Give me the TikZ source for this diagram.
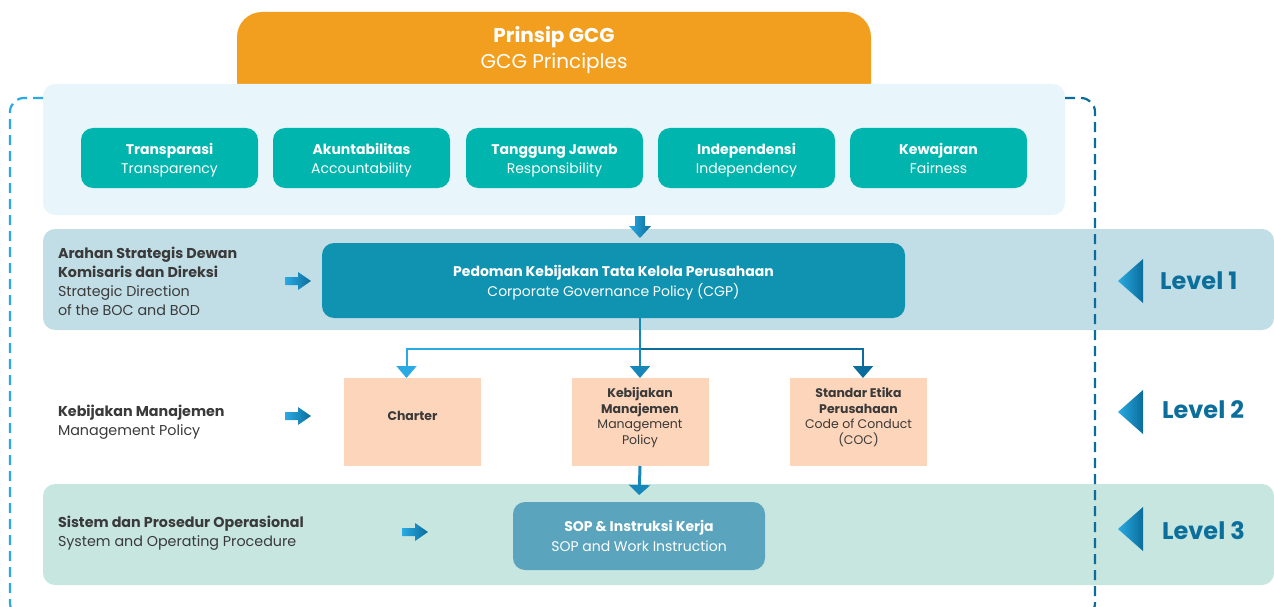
\documentclass[tikz,border=0pt]{standalone}
\usepackage{fontspec}
\setmainfont{Poppins}
\usetikzlibrary{arrows.meta}
\definecolor{cOrange}{HTML}{F29F1F}
\definecolor{cPanel}{HTML}{E8F6FC}
\definecolor{cTeal}{HTML}{00B5AD}
\definecolor{cBandA}{HTML}{C1DEE6}
\definecolor{cBandC}{HTML}{C6E6DF}
\definecolor{cCGP}{HTML}{0F93B0}
\definecolor{cPeach}{HTML}{FDD5BA}
\definecolor{cSOP}{HTML}{5BA4BD}
\definecolor{cLight}{HTML}{2AAAE2}
\definecolor{cMid}{HTML}{1787BA}
\definecolor{cDark}{HTML}{0A6D9B}
\definecolor{cText}{HTML}{3A3A3A}
\definecolor{cLevel}{HTML}{0B6E9B}
\tikzset{
  box/.style={inner sep=0pt, outer sep=0pt},
  txt/.style={inner sep=0pt, outer sep=0pt, align=center},
  tealbox/.style={box, fill=cTeal, rounded corners=12pt, minimum width=177pt, minimum height=60pt},
  tealtext/.style={txt, text=white, font=\fontsize{14}{19}\selectfont},
  peachbox/.style={box, fill=cPeach, minimum width=137pt, minimum height=88pt},
  peachtext/.style={txt, text=cText, font=\fontsize{12.5}{15.7}\selectfont},
  lefttext/.style={inner sep=0pt, outer sep=0pt, anchor=west, align=left, text=cText, font=\fontsize{14.3}{19.3}\selectfont},
  leveltext/.style={inner sep=0pt, anchor=west, text=cLevel, font=\fontsize{24}{28}\selectfont\bfseries},
  conn/.style={line width=2pt, -{Triangle[width=20pt,length=12pt]}},
  dashline/.style={line width=2.2pt, dash pattern=on 10pt off 6pt, rounded corners=14pt},
}
\newcommand{\rarrow}[2]{%
  \shade[left color=cLight, right color=cDark] (#1,#2-4) -- (#1+13,#2-4) -- (#1+13,#2-9) -- (#1+26,#2) -- (#1+13,#2+9) -- (#1+13,#2+4) -- (#1,#2+4) -- cycle;}
\newcommand{\leveltri}[2]{%
  \shade[left color=cLight, right color=cDark] (#1+25,#2-22) -- (#1,#2) -- (#1+25,#2+22) -- cycle;}
\newcommand{\twol}[2]{\strut\textbf{#1}\\#2\strut}
\begin{document}
\begin{tikzpicture}[x=1pt,y=-1pt]
\useasboundingbox (0,0) rectangle (1274,607);
% orange header
\fill[cOrange, rounded corners=25pt] (237,12) rectangle (871,110);
\node[txt, text=white, font=\fontsize{20}{26}\selectfont] (gcg) at (554,50.8) {\twol{Prinsip GCG}{GCG Principles}};
% panel
\fill[cPanel, rounded corners=12pt] (43,84) rectangle (1065,215);
\node[tealbox] (t1) at (169.5,158) {};
\node[tealbox] (t2) at (361.5,158) {};
\node[tealbox] (t3) at (554.5,158) {};
\node[tealbox] (t4) at (746.5,158) {};
\node[tealbox] (t5) at (938.5,158) {};
\node[tealtext] (t1l) at (169.5,160.6) {\twol{Transparasi}{Transparency}};
\node[tealtext] (t2l) at (361.5,160.6) {\twol{Akuntabilitas}{Accountability}};
\node[tealtext] (t3l) at (554.5,160.6) {\twol{Tanggung Jawab}{Responsibility}};
\node[tealtext] (t4l) at (746.5,160.6) {\twol{Independensi}{Independency}};
\node[tealtext] (t5l) at (938.5,160.6) {\twol{Kewajaran}{Fairness}};
% bands
\fill[cBandA, rounded corners=12pt] (43,229) rectangle (1274,330);
\fill[cBandC, rounded corners=12pt] (43,484) rectangle (1274,585);
% down block arrow from panel to CGP
\shade[left color=cLight, right color=cDark] (635,216) -- (645,216) -- (645,226) -- (651,226) -- (640,238) -- (629,226) -- (635,226) -- cycle;
% CGP
\node[box, fill=cCGP, rounded corners=12pt, minimum width=583pt, minimum height=75pt] (cgp) at (613.5,280.5) {};
\node[txt, text=white, font=\fontsize{14}{20}\selectfont] (cgpl) at (613.5,282.9) {\twol{Pedoman Kebijakan Tata Kelola Perusahaan}{Corporate Governance Policy (CGP)}};
% level 2 boxes
\node[peachbox] (charter) at (412.5,422) {};
\node[peachbox] (keb) at (640,422) {};
\node[peachbox] (coc) at (858.5,422) {};
\node[peachtext] (charterl) at (412.5,417.3) {\strut\textbf{Charter}};
\node[peachtext] (kebl) at (640,417.8) {\strut\textbf{Kebijakan}\\\textbf{Manajemen}\\Management\\Policy\strut};
\node[peachtext] (cocl) at (858.5,417.8) {\strut\textbf{Standar Etika}\\\textbf{Perusahaan}\\Code of Conduct\\(COC)\strut};
% SOP
\node[box, fill=cSOP, rounded corners=12pt, minimum width=252pt, minimum height=68pt] (sop) at (639,536) {};
\node[txt, text=white, font=\fontsize{14}{20}\selectfont] (sopl) at (639,537.9) {\twol{SOP \& Instruksi Kerja}{SOP and Work Instruction}};
% connectors
\coordinate (cgpout) at (cgp.south -| keb.north);
\coordinate (split) at (640,349);
\draw[conn, cLight] (cgpout) -- (split) -| ([xshift=-6pt]charter.north);
\draw[conn, cDark] (cgpout) -- (split) -| ([xshift=4.5pt]coc.north);
\draw[conn, cMid] (cgpout) -- (keb.north);
\draw[line width=3pt, cMid, -{Triangle[width=21pt,length=10pt]}, shorten >=7pt] (keb.south) -- (sop.north);
% left texts
\node[lefttext] (l1) at (58,283.1) {\strut\textbf{Arahan Strategis Dewan}\\\textbf{Komisaris dan Direksi}\\Strategic Direction\\of the BOC and BOD\strut};
\node[lefttext] (l2) at (58,421.8) {\twol{Kebijakan Manajemen}{Management Policy}};
\node[lefttext] (l3) at (58,532.8) {\twol{Sistem dan Prosedur Operasional}{System and Operating Procedure}};
\rarrow{285}{281}
\rarrow{285}{416}
\rarrow{402}{532}
% levels
\leveltri{1118}{281}
\leveltri{1118}{412}
\leveltri{1118}{529}
\node[leveltext] (lv1) at (1160,281) {Level 1};
\node[leveltext] (lv2) at (1162,410) {Level 2};
\node[leveltext] (lv3) at (1162,531) {Level 3};
% dashed frame
\draw[dashline, cLight] (43,98) -- (10,98) -- (10,617) -- (60,617);
\draw[dashline, cDark] (1065,98) -- (1095,98) -- (1095,617) -- (1040,617);
\end{tikzpicture}
\end{document}
